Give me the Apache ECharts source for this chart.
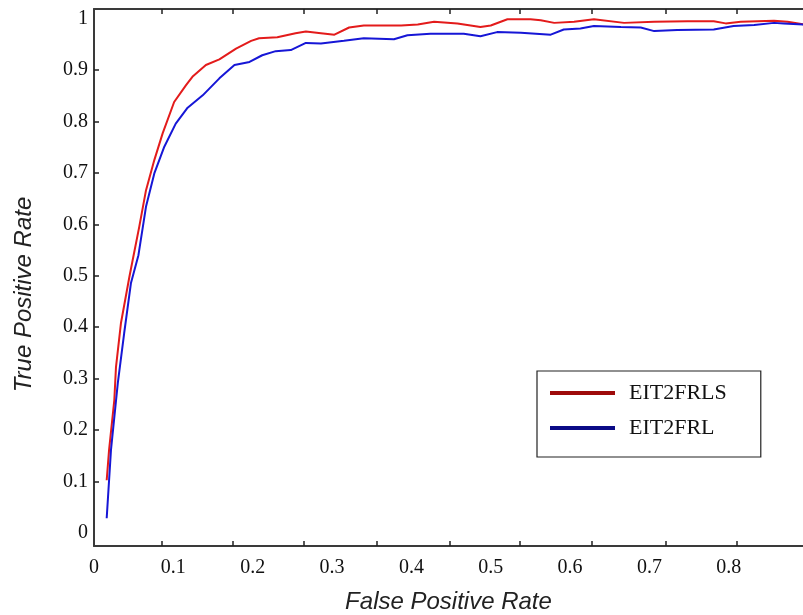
<!DOCTYPE html>
<html>
<head>
<meta charset="utf-8">
<script src="https://cdn.jsdelivr.net/npm/echarts@6/dist/echarts.min.js"></script>
<style>
  html, body { margin: 0; padding: 0; background: #fff; }
  #main { width: 803px; height: 615px; }
</style>
</head>
<body>
<div id="main"></div>
<script>
// ROC curves
var seriesNames = ['EIT2FRLS', 'EIT2FRL'];

var fprRed = [0.016, 0.019, 0.0256, 0.0277, 0.034, 0.0445, 0.0487, 0.057, 0.0655, 0.076, 0.0865,
  0.101, 0.116, 0.124, 0.141, 0.158, 0.179, 0.198, 0.208, 0.231, 0.254, 0.267, 0.286, 0.303,
  0.3215, 0.340, 0.387, 0.408, 0.4286, 0.458, 0.487, 0.500, 0.521, 0.550, 0.563, 0.580, 0.605,
  0.630, 0.668, 0.706, 0.748, 0.781, 0.796, 0.815, 0.857, 0.874, 0.894];
var tprRed = [0.102, 0.161, 0.258, 0.322, 0.408, 0.497, 0.530, 0.595, 0.666, 0.725, 0.777,
  0.838, 0.871, 0.887, 0.910, 0.921, 0.942, 0.957, 0.962, 0.964, 0.972, 0.975, 0.972, 0.969,
  0.983, 0.987, 0.987, 0.989, 0.994, 0.991, 0.984, 0.987, 0.999, 0.999, 0.997, 0.992, 0.994,
  0.999, 0.992, 0.994, 0.995, 0.995, 0.991, 0.994, 0.996, 0.994, 0.989];

var fprBlue = [0.016, 0.0214, 0.030, 0.038, 0.0466, 0.056, 0.0655, 0.076, 0.0886, 0.103, 0.118,
  0.137, 0.158, 0.177, 0.196, 0.212, 0.229, 0.248, 0.267, 0.286, 0.315, 0.340, 0.378, 0.395,
  0.424, 0.466, 0.487, 0.508, 0.538, 0.5756, 0.592, 0.613, 0.630, 0.664, 0.689, 0.706, 0.735,
  0.781, 0.806, 0.832, 0.857, 0.869, 0.894];
var tprBlue = [0.028, 0.161, 0.291, 0.388, 0.486, 0.540, 0.634, 0.699, 0.751, 0.796, 0.827,
  0.851, 0.884, 0.910, 0.916, 0.929, 0.937, 0.939, 0.953, 0.952, 0.957, 0.962, 0.960, 0.968,
  0.971, 0.971, 0.966, 0.974, 0.973, 0.969, 0.979, 0.981, 0.986, 0.984, 0.983, 0.976, 0.978,
  0.979, 0.986, 0.988, 0.992, 0.991, 0.989];

var xLabels = [0, 0.1, 0.2, 0.3, 0.4, 0.5, 0.6, 0.7, 0.8];
var xTicks = [0.0856, 0.175, 0.2645, 0.3564, 0.448, 0.5365, 0.6272, 0.7204, 0.8098];
var yLabels = [0, 0.1, 0.2, 0.3, 0.4, 0.5, 0.6, 0.7, 0.8, 0.9, 1];
var yTicks = [0.1, 0.2, 0.3, 0.4, 0.5, 0.6, 0.7, 0.8, 0.9];

function pairs(xs, ys) {
  var out = [];
  for (var i = 0; i < xs.length; i++) out.push([xs[i], ys[i]]);
  return out;
}

var chart = echarts.init(document.getElementById('main'));

var axisLine = { show: true, onZero: false, lineStyle: { color: '#3a3a3a', width: 2 } };
var tickStyle = { color: '#222', width: 1.5 };
var labelFont = { fontFamily: 'Liberation Serif', fontSize: 20, color: '#111' };
var nameFont = { fontFamily: 'Liberation Sans', fontStyle: 'italic', fontSize: 24, color: '#222' };

var option = {
  backgroundColor: '#ffffff',
  animation: false,
  grid: { left: 94, top: 9, right: 0, bottom: 69, outerBoundsMode: 'none' },
  legend: {
    orient: 'vertical',
    left: 537,
    top: 371,
    padding: [11, 34, 18, 13],
    itemGap: 13,
    itemWidth: 65,
    itemHeight: 4,
    borderColor: '#222',
    borderWidth: 1.2,
    textStyle: { fontFamily: 'Liberation Serif', fontSize: 22, color: '#111', padding: [0, 0, 0, 9] },
    data: [
      { name: seriesNames[0], icon: 'rect', itemStyle: { color: '#9e0a0a' } },
      { name: seriesNames[1], icon: 'rect', itemStyle: { color: '#0a0a86' } }
    ]
  },
  xAxis: [{
    type: 'value',
    min: 0,
    max: 0.8935,
    name: 'False Positive Rate',
    nameLocation: 'middle',
    nameGap: 44,
    nameTextStyle: nameFont,
    axisLine: axisLine,
    axisTick: { show: true, inside: true, length: 5, customValues: xTicks, lineStyle: tickStyle },
    axisLabel: Object.assign({ customValues: xLabels, margin: 12 }, labelFont),
    splitLine: { show: false }
  }, {
    type: 'value',
    position: 'top',
    min: 0,
    max: 0.8935,
    axisLine: axisLine,
    axisTick: { show: true, inside: true, length: 5, customValues: xTicks, lineStyle: tickStyle },
    axisLabel: { show: false },
    splitLine: { show: false }
  }],
  yAxis: {
    type: 'value',
    min: -0.026,
    max: 1.019,
    name: 'True Positive Rate',
    nameLocation: 'middle',
    nameGap: 58,
    nameTextStyle: Object.assign({ padding: [0, 34, 0, 0] }, nameFont),
    axisLine: axisLine,
    axisTick: { show: true, inside: true, length: 5, customValues: yTicks, lineStyle: tickStyle },
    axisLabel: Object.assign({ customValues: yLabels, margin: 6 }, labelFont),
    splitLine: { show: false }
  },
  series: [{
    name: seriesNames[0],
    type: 'line',
    showSymbol: false,
    data: pairs(fprRed, tprRed),
    itemStyle: { color: '#e31b1b' },
    lineStyle: { color: '#e31b1b', width: 2 }
  }, {
    name: seriesNames[1],
    type: 'line',
    showSymbol: false,
    data: pairs(fprBlue, tprBlue),
    itemStyle: { color: '#1616d6' },
    lineStyle: { color: '#1616d6', width: 2 }
  }]
};

chart.setOption(option);
</script>
</body>
</html>
